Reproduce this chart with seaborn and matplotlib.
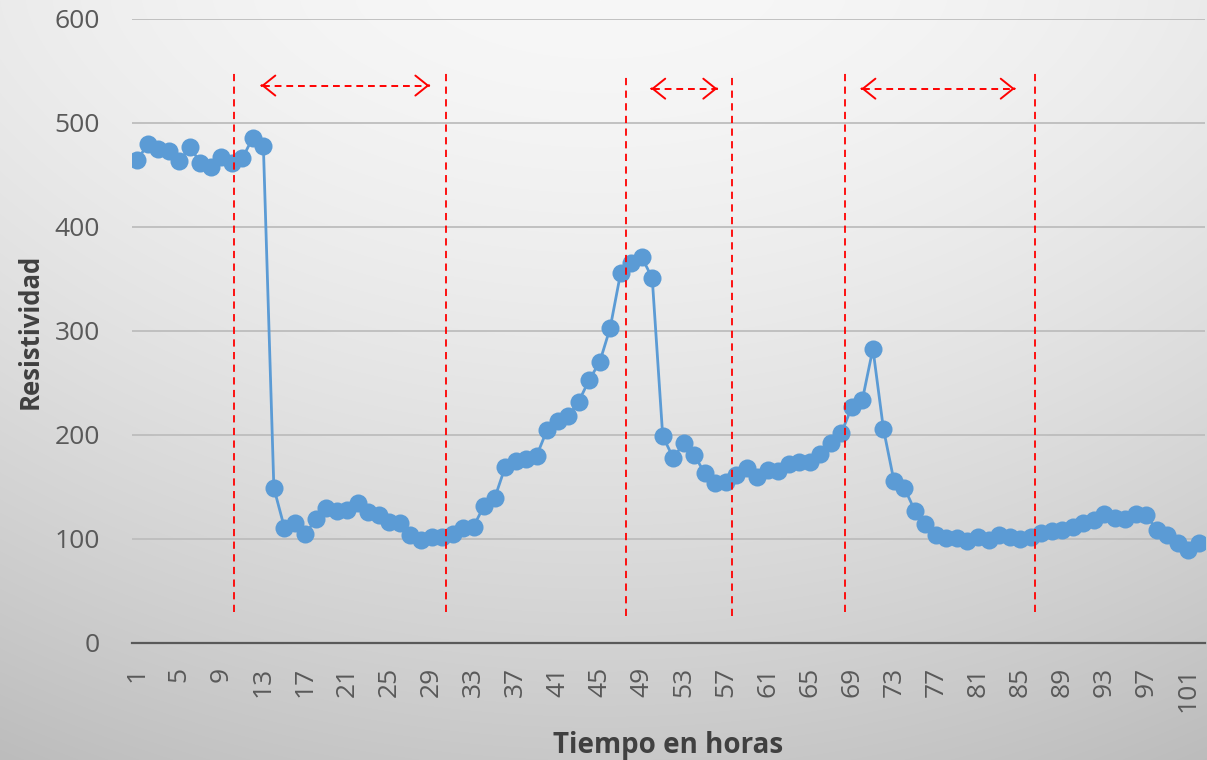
import numpy as np
import matplotlib
matplotlib.use("Agg")
import matplotlib.pyplot as plt
import seaborn as sns

# datos
horas = list(range(1, 103))
resistividad = [
    464, 480, 475, 473, 463, 477, 462, 458, 467, 462,
    466, 486, 478, 149, 111, 115, 105, 119, 130, 127,
    128, 135, 126, 123, 116, 115, 104, 99, 102, 102,
    105, 111, 112, 132, 139, 169, 175, 177, 180, 205,
    213, 218, 232, 253, 270, 303, 356, 365, 371, 351,
    199, 178, 192, 181, 163, 154, 155, 162, 168, 160,
    166, 165, 172, 174, 174, 182, 192, 202, 227, 234,
    283, 206, 156, 149, 127, 114, 104, 101, 101, 98,
    102, 99, 104, 102, 100, 102, 106, 108, 109, 112,
    115, 118, 124, 120, 119, 124, 123, 109, 104, 96,
    89, 96,
]
# líneas verticales rojas (posición, y inferior, y superior)
cortes_x = [10.2, 30.4, 47.5, 57.6, 68.3, 86.4]
cortes_y0 = [30, 30, 26, 26, 30, 30]
cortes_y1 = [549, 549, 546, 546, 549, 549]
# flechas entre periodos
flecha_ini = [12.8, 49.9, 69.9]
flecha_fin = [28.8, 56.2, 84.5]
flecha_y = [536, 533, 533]

fig = plt.figure(figsize=(12.07, 7.6), dpi=100)
plt.rcParams['font.family'] = ['Open Sans', 'DejaVu Sans']

# fondo degradado
bg = fig.add_axes([0, 0, 1, 1], zorder=-10)
yy, xx = np.mgrid[0:760, 0:1207]
v = 247 - 12 * ((xx - 600) / 600.0) ** 2 - 47 * (yy / 760.0) ** 1.5
v = np.clip(v, 0, 255) / 255.0
bg.imshow(np.dstack([v, v, v]), aspect='auto', extent=[0, 1, 0, 1], interpolation='bilinear')
bg.set_axis_off()

ax = fig.add_axes([132 / 1207, 1 - 643 / 760, 1073 / 1207, 624 / 760])
ax.patch.set_alpha(0)

sns.lineplot(x=horas, y=resistividad, ax=ax, color='#5B9BD5', lw=2.0,
             marker='o', markersize=13, markeredgewidth=0, zorder=3)

for x, y0, y1 in zip(cortes_x, cortes_y0, cortes_y1):
    ax.plot([x, x], [y0, y1], color='#FF0000', lw=1.3, ls=(0, (4, 3)), zorder=4)

for x0, x1, y in zip(flecha_ini, flecha_fin, flecha_y):
    ax.plot([x0 + 0.2, x1 - 0.2], [y, y], color='#FF0000', lw=1.4, ls=(0, (3.5, 2.5)), zorder=4)
    for a, b in [(x0 + 0.05, x0), (x1 - 0.05, x1)]:
        ax.annotate('', xy=(b, y), xytext=(a, y),
                    arrowprops=dict(arrowstyle='->, head_length=0.45, head_width=0.36',
                                    color='#FF0000', lw=1.4, mutation_scale=20,
                                    shrinkA=0, shrinkB=0), zorder=4)

ax.set_xlim(0.5, 102.6)
ax.set_ylim(0, 600)
ax.set_yticks(range(0, 601, 100))
ax.set_xticks(horas[::4])
ax.set_xticklabels([str(h) for h in horas[::4]], rotation=90)
ax.grid(axis='y', color='#bdbdbd', lw=1.3)
ax.grid(axis='x', visible=False)
ax.set_axisbelow(True)
for s in ['top', 'right', 'left']:
    ax.spines[s].set_visible(False)
ax.spines['bottom'].set_color('#595959')
ax.spines['bottom'].set_linewidth(1.6)
ax.tick_params(axis='y', length=0, pad=23, labelsize=19, labelcolor='#595959')
ax.tick_params(axis='x', length=0, pad=17, labelsize=19, labelcolor='#595959')

ax.set_xlabel('Tiempo en horas', fontsize=20, fontweight='bold', color='#404040', labelpad=14)
ax.set_ylabel('Resistividad', fontsize=18.5, fontweight='bold', color='#404040', labelpad=8)

fig.savefig('out.png', dpi=100)
